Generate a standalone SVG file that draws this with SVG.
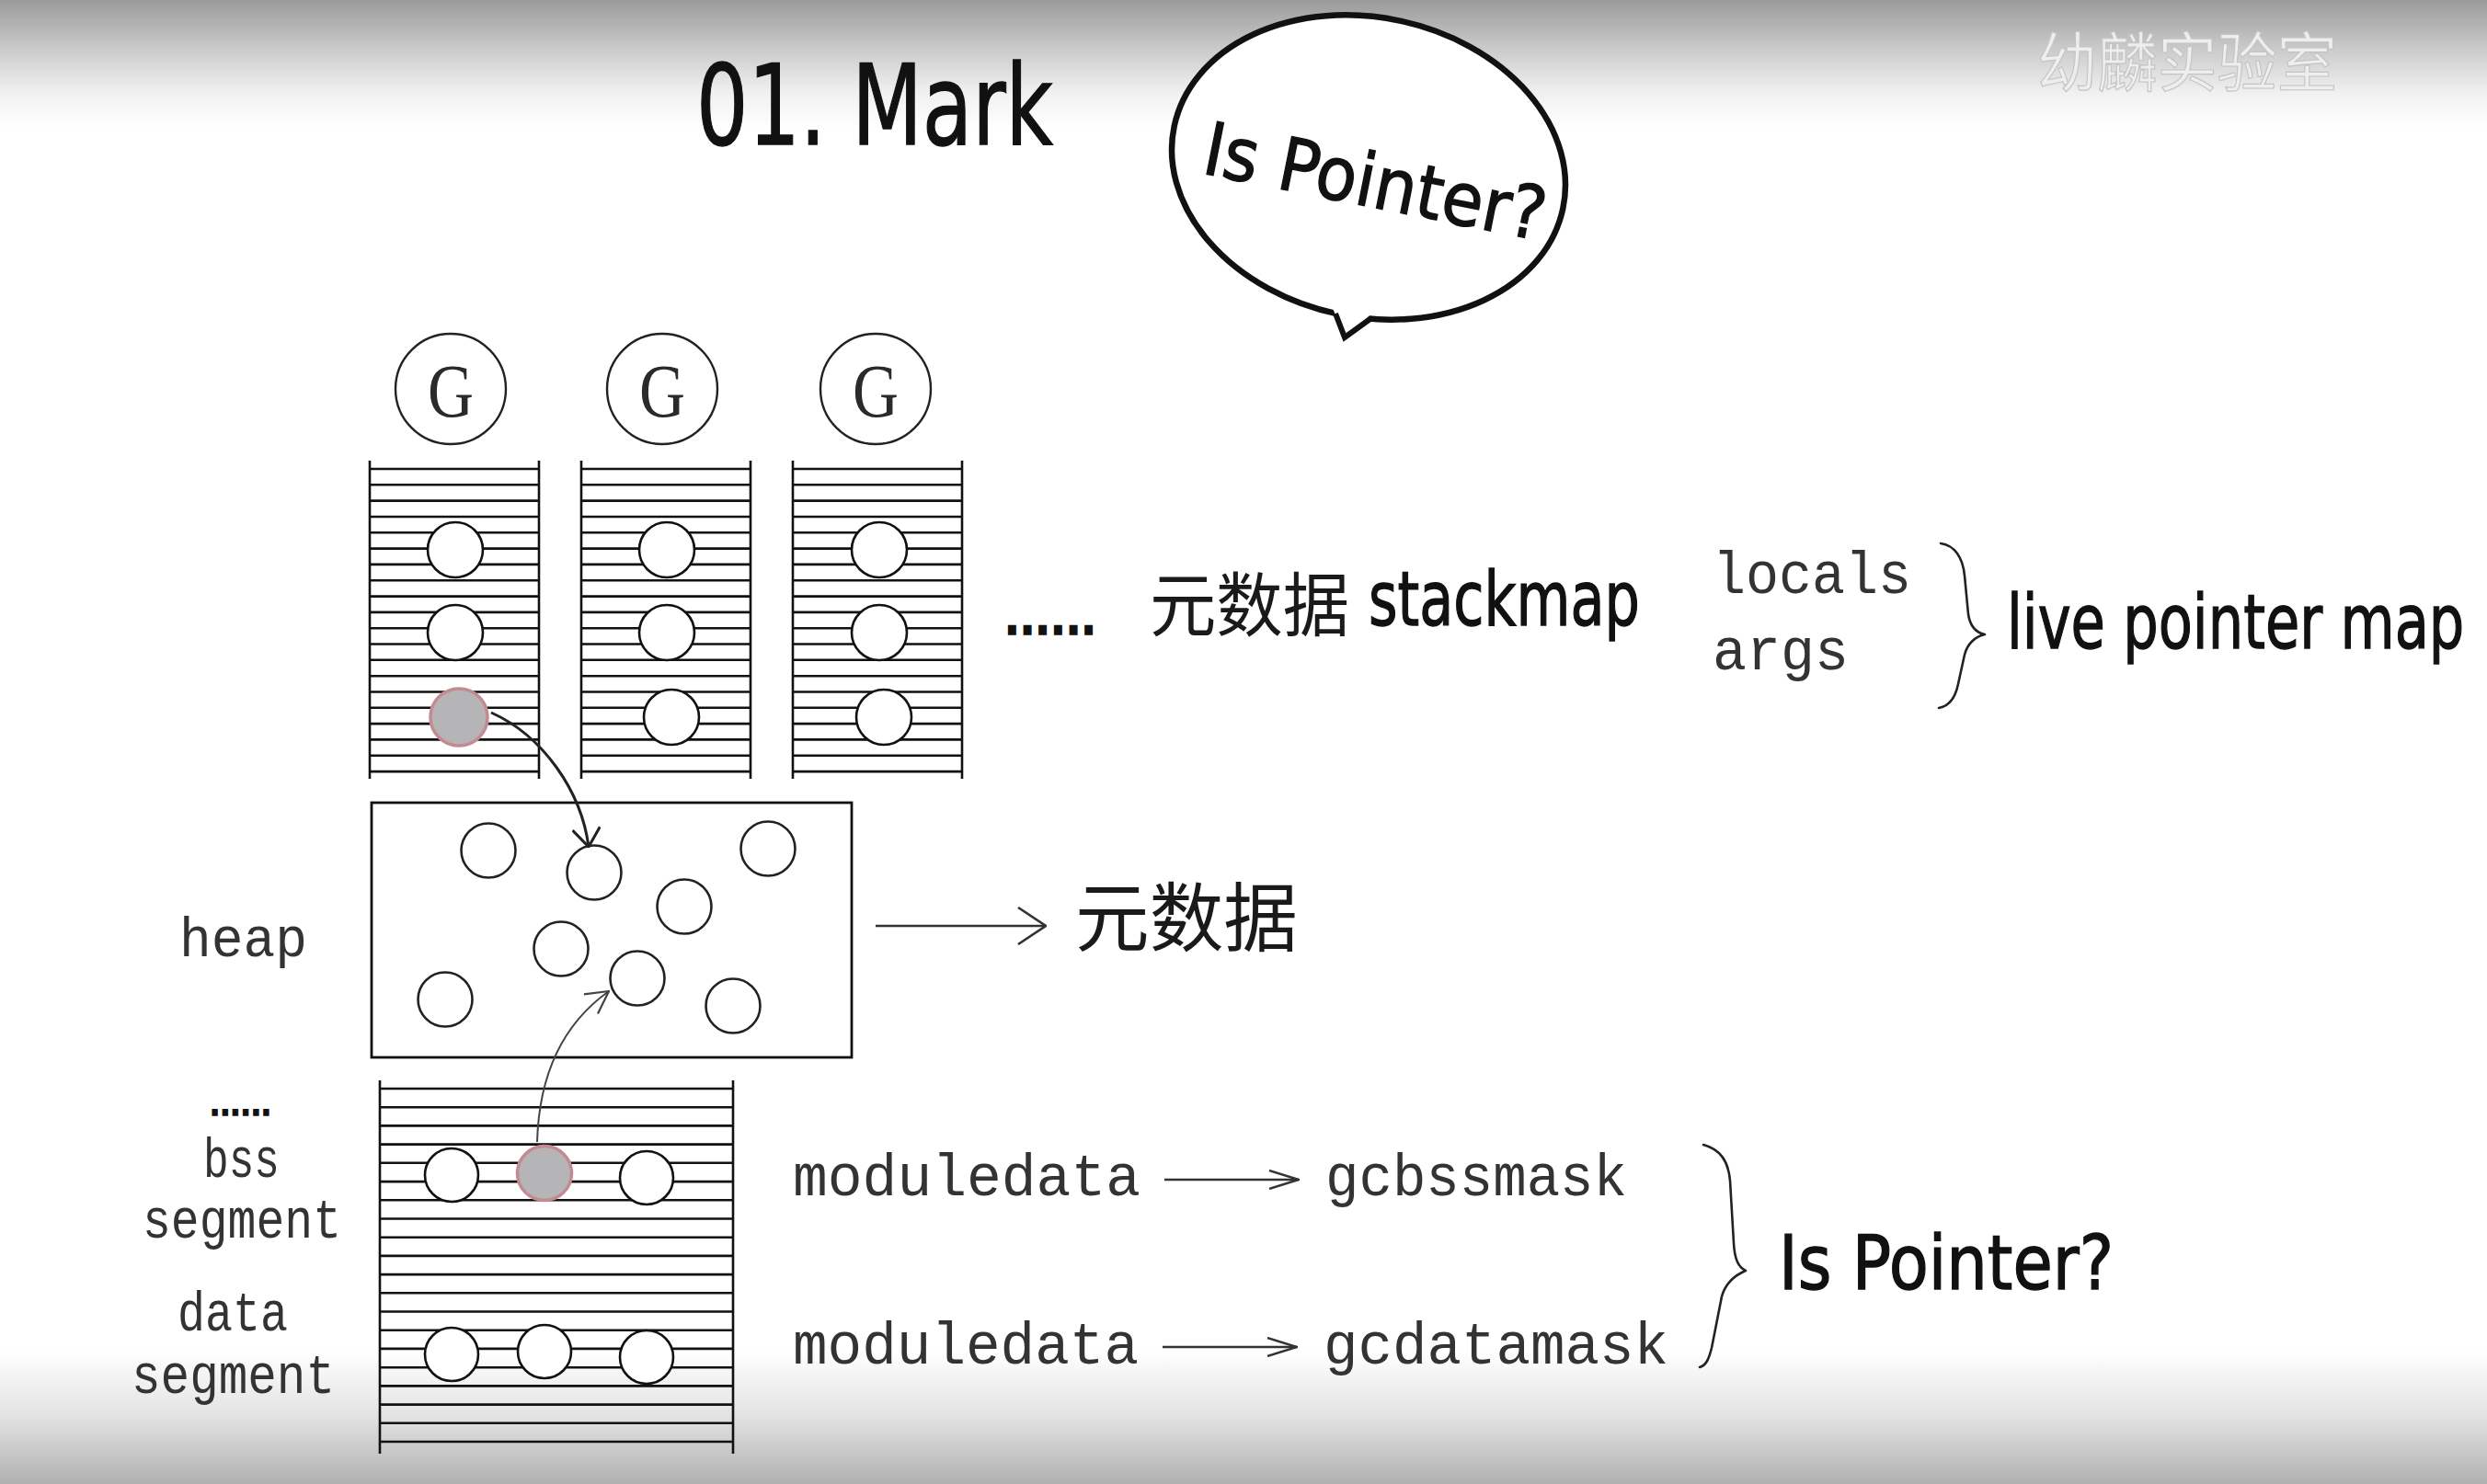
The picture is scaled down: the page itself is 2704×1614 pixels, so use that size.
<svg xmlns="http://www.w3.org/2000/svg" width="2704" height="1614" viewBox="0 0 2704 1614">
<defs>
<linearGradient id="bg" gradientUnits="userSpaceOnUse" x1="0" y1="0" x2="0" y2="1614">
<stop offset="0" stop-color="#9a9a9a"/>
<stop offset="0.031" stop-color="#c8c8c8"/>
<stop offset="0.062" stop-color="#f0f0f0"/>
<stop offset="0.087" stop-color="#ffffff"/>
<stop offset="0.91" stop-color="#ffffff"/>
<stop offset="0.955" stop-color="#e2e2e2"/>
<stop offset="1" stop-color="#b0b0b0"/>
</linearGradient>
<marker id="headCurve" viewBox="0 0 22 32" refX="21" refY="16" markerWidth="22" markerHeight="32" orient="auto" markerUnits="userSpaceOnUse">
<path d="M1,1 L21,16 L1,31" fill="none" stroke="#222" stroke-width="3"/>
</marker>
<marker id="headThin" viewBox="0 0 26 28" refX="25" refY="14" markerWidth="26" markerHeight="28" orient="auto" markerUnits="userSpaceOnUse">
<path d="M1,1 L25,14 L1,27" fill="none" stroke="#444" stroke-width="2.2"/>
</marker>
<marker id="headMid" viewBox="0 0 32 42" refX="31" refY="21" markerWidth="32" markerHeight="42" orient="auto" markerUnits="userSpaceOnUse">
<path d="M1,1 L31,21 L1,41" fill="none" stroke="#333" stroke-width="2.6"/>
</marker>
<marker id="headLong" viewBox="0 0 34 22" refX="33" refY="11" markerWidth="34" markerHeight="22" orient="auto" markerUnits="userSpaceOnUse">
<path d="M1,1 L33,11 L1,21" fill="none" stroke="#333" stroke-width="2.4"/>
</marker>
<path id="rungs" d="M0,510H184M0,527.3H184M0,544.6H184M0,562H184M0,579.3H184M0,596.6H184M0,613.9H184M0,631.2H184M0,648.6H184M0,665.9H184M0,683.2H184M0,700.5H184M0,717.8H184M0,735.2H184M0,752.5H184M0,769.8H184M0,787.1H184M0,804.4H184M0,821.8H184M0,839.1H184M0,501V847M184,501V847"/>
</defs>
<style>
.line{fill:none;stroke:#111;stroke-width:2.6}
.slot{fill:#fff;stroke:#111;stroke-width:2.6}
.marked{fill:#b5b5b7;stroke:#c48a92;stroke-width:3.5}
.gnode{fill:#fff;stroke:#222;stroke-width:2.4}
.obj{fill:#fff;stroke:#222;stroke-width:2.6}
.mono{font-family:"Liberation Mono","DejaVu Sans Mono",monospace;fill:#333}
.hand{font-family:"DejaVu Sans","Liberation Sans",sans-serif;fill:#111;stroke:#111;stroke-width:1.4}
.serif{font-family:"Liberation Serif",serif;fill:#2a2a2a}
.cjk{font-family:"Noto Sans CJK SC","Noto Sans",sans-serif;fill:#1a1a1a}
.brace{fill:none;stroke:#222;stroke-width:2.6;stroke-linecap:round;stroke-linejoin:round}
</style>
<rect width="2704" height="1614" fill="url(#bg)"/>
<text x="2215" y="94" class="cjk" font-size="70" textLength="326" lengthAdjust="spacingAndGlyphs" style="fill:#eeeeee;stroke:#c4c4c4;stroke-width:1.2">幼麟实验室</text>

<g id="title">
<text x="757" y="157" class="hand" font-size="122" textLength="388" lengthAdjust="spacingAndGlyphs">01. Mark</text>
</g>

<g id="bubble">
<ellipse cx="1488" cy="182" rx="216" ry="163" transform="rotate(12 1488 182)" fill="#fff" stroke="#111" stroke-width="6.5"/>
<path d="M1447,330 L1462,368 L1497,336 Z" fill="#fff"/>
<path d="M1452,341 L1462,367 L1491,346" fill="none" stroke="#111" stroke-width="6" stroke-linejoin="miter"/>
<text x="1305" y="188" class="hand" font-size="80" textLength="377" lengthAdjust="spacingAndGlyphs" transform="rotate(11.3 1305 188)">Is Pointer?</text>
</g>

<g id="g1"><circle cx="490" cy="423" r="60" class="gnode"/><text x="490" y="453" class="serif" font-size="82" text-anchor="middle" textLength="50" lengthAdjust="spacingAndGlyphs">G</text></g>
<g id="g2"><circle cx="720" cy="423" r="60" class="gnode"/><text x="720" y="453" class="serif" font-size="82" text-anchor="middle" textLength="50" lengthAdjust="spacingAndGlyphs">G</text></g>
<g id="g3"><circle cx="952" cy="423" r="60" class="gnode"/><text x="952" y="453" class="serif" font-size="82" text-anchor="middle" textLength="50" lengthAdjust="spacingAndGlyphs">G</text></g>

<g id="stack1">
<use href="#rungs" x="402" class="line"/>
<circle cx="495" cy="598" r="30" class="slot"/>
<circle cx="495" cy="688" r="30" class="slot"/>
<circle cx="499" cy="780" r="31" class="marked"/>
</g>
<g id="stack2">
<use href="#rungs" x="632" class="line"/>
<circle cx="725" cy="598" r="30" class="slot"/>
<circle cx="725" cy="688" r="30" class="slot"/>
<circle cx="730" cy="780" r="30" class="slot"/>
</g>
<g id="stack3">
<use href="#rungs" x="862" class="line"/>
<circle cx="956" cy="598" r="30" class="slot"/>
<circle cx="956" cy="688" r="30" class="slot"/>
<circle cx="961" cy="780" r="30" class="slot"/>
</g>

<g id="stackmap-label">
<text x="1092" y="690" class="hand" font-size="50" font-weight="bold" textLength="100" lengthAdjust="spacingAndGlyphs">......</text>
<text x="1250" y="686" class="cjk" font-size="76" textLength="217" lengthAdjust="spacingAndGlyphs">元数据</text>
<text x="1488" y="680" class="hand" font-size="82" textLength="295" lengthAdjust="spacingAndGlyphs">stackmap</text>
</g>
<g id="locals-args">
<text x="1862" y="645" class="mono" font-size="64" textLength="216" lengthAdjust="spacingAndGlyphs">locals</text>
<text x="1862" y="728" class="mono" font-size="64" textLength="148" lengthAdjust="spacingAndGlyphs">args</text>
<path class="brace" d="M2110,591 C2125,593 2134,606 2136,626 L2140,668 C2142,681 2148,688 2158,690 C2148,692 2139,700 2136,712 L2129,744 C2126,759 2119,768 2108,770"/>
<text x="0" y="0" class="hand" font-size="82" transform="translate(2182 705) scale(0.74 1)">live pointer map</text>
</g>

<g id="heap">
<text x="195" y="1040" class="mono" font-size="62" textLength="139" lengthAdjust="spacingAndGlyphs">heap</text>
<rect x="404" y="873" width="522" height="277" fill="#fff" stroke="#111" stroke-width="2.8"/>
<circle cx="531" cy="925" r="29.5" class="obj"/>
<circle cx="646" cy="949" r="29.5" class="obj"/>
<circle cx="835" cy="923" r="29.5" class="obj"/>
<circle cx="744" cy="986" r="29.5" class="obj"/>
<circle cx="610" cy="1032" r="29.5" class="obj"/>
<circle cx="693" cy="1064" r="29.5" class="obj"/>
<circle cx="484" cy="1087" r="29.5" class="obj"/>
<circle cx="797" cy="1094" r="29.5" class="obj"/>
</g>
<g id="heap-meta">
<text x="1169" y="1028" class="cjk" font-size="82" textLength="242" lengthAdjust="spacingAndGlyphs">元数据</text>
</g>

<g id="globals">
<text x="228" y="1213" class="hand" font-size="34" font-weight="bold" textLength="67" lengthAdjust="spacingAndGlyphs">......</text>
<text x="221" y="1280" class="mono" font-size="62" textLength="83" lengthAdjust="spacingAndGlyphs">bss</text>
<text x="155" y="1346" class="mono" font-size="62" textLength="216" lengthAdjust="spacingAndGlyphs">segment</text>
<text x="193" y="1447" class="mono" font-size="62" textLength="120" lengthAdjust="spacingAndGlyphs">data</text>
<text x="143" y="1515" class="mono" font-size="62" textLength="221" lengthAdjust="spacingAndGlyphs">segment</text>
<path class="line" d="M413,1184H797M413,1204.2H797M413,1224.4H797M413,1244.6H797M413,1264.8H797M413,1285.1H797M413,1305.3H797M413,1325.5H797M413,1345.7H797M413,1365.9H797M413,1386.1H797M413,1406.3H797M413,1426.5H797M413,1446.7H797M413,1466.9H797M413,1487.2H797M413,1507.4H797M413,1527.6H797M413,1547.8H797M413,1568H797M413,1175V1581M797,1175V1581"/>
<circle cx="491" cy="1278" r="29" class="slot"/>
<circle cx="592" cy="1276" r="29.5" class="marked"/>
<circle cx="703" cy="1281" r="29" class="slot"/>
<circle cx="491" cy="1473" r="29" class="slot"/>
<circle cx="592" cy="1470" r="29" class="slot"/>
<circle cx="703" cy="1476" r="29" class="slot"/>
</g>

<g id="masks">
<text x="862" y="1300" class="mono" font-size="64" textLength="378" lengthAdjust="spacingAndGlyphs">moduledata</text>
<text x="1441" y="1300" class="mono" font-size="64" textLength="328" lengthAdjust="spacingAndGlyphs">gcbssmask</text>
<text x="862" y="1483" class="mono" font-size="64" textLength="376" lengthAdjust="spacingAndGlyphs">moduledata</text>
<text x="1439" y="1483" class="mono" font-size="64" textLength="375" lengthAdjust="spacingAndGlyphs">gcdatamask</text>
<path class="brace" d="M1852,1245 C1870,1250 1879,1262 1881,1284 L1885,1352 C1886,1370 1890,1378 1898,1382 C1886,1387 1876,1396 1872,1410 L1861,1466 C1858,1478 1855,1485 1848,1487"/>
<text x="1934" y="1402" class="hand" font-size="82" textLength="364" lengthAdjust="spacingAndGlyphs">Is Pointer?</text>
</g>

<g id="connectors">
<path d="M534,775 C590,800 632,860 640,921" fill="none" stroke="#222" stroke-width="3" marker-end="url(#headCurve)"/>
<path d="M584,1242 C586,1170 610,1115 662,1078" fill="none" stroke="#444" stroke-width="2" marker-end="url(#headThin)"/>
<path d="M952,1007 H1137" fill="none" stroke="#333" stroke-width="2.6" marker-end="url(#headMid)"/>
<path d="M1266,1283 H1412" fill="none" stroke="#333" stroke-width="2.4" marker-end="url(#headLong)"/>
<path d="M1264,1465 H1410" fill="none" stroke="#333" stroke-width="2.4" marker-end="url(#headLong)"/>
</g>
</svg>
